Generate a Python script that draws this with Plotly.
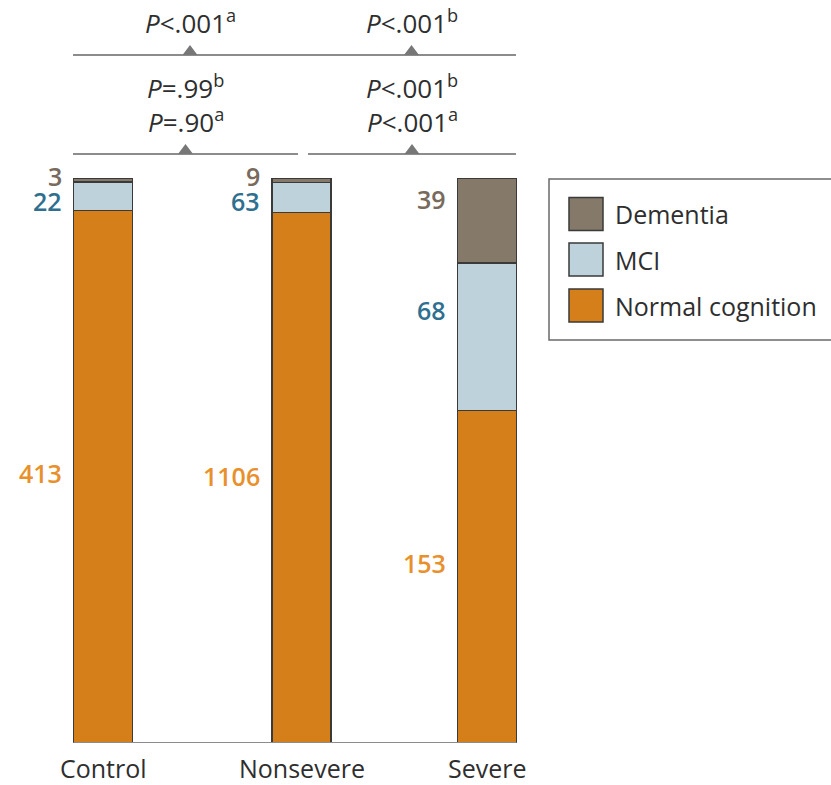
import plotly.graph_objects as go

# Cognitive status counts by group
categories = ["Control", "Nonsevere", "Severe"]
normal_counts = [413, 1106, 153]
mci_counts = [22, 63, 68]
dementia_counts = [3, 9, 39]

series_names = ["Normal cognition", "MCI", "Dementia"]

# Pairwise comparison labels (rows of text above each bracket)
top_row_labels = [["<i>P</i><.001<sup>a</sup>"], ["<i>P</i><.001<sup>b</sup>"]]
second_row_labels = [["<i>P</i>=.99<sup>b</sup>", "<i>P</i>=.90<sup>a</sup>"],
                     ["<i>P</i><.001<sup>b</sup>", "<i>P</i><.001<sup>a</sup>"]]

W, H = 831, 785
PLOT_TOP, PLOT_BOTTOM = 178, 743
FONT = "Open Sans"
TEXT = "#2e2e2e"

bar_fill = {"Normal cognition": "#D57F1A", "MCI": "#BDD2DB", "Dementia": "#85796A"}
label_color = {"Normal cognition": "#E8902C", "MCI": "#2F6F8F", "Dementia": "#786A5C"}

bar_x = [103, 301.5, 487]
bar_w = 59

totals = [a + b + c for a, b, c in zip(normal_counts, mci_counts, dementia_counts)]
pct = {
    "Normal cognition": [v / t * 100 for v, t in zip(normal_counts, totals)],
    "MCI": [v / t * 100 for v, t in zip(mci_counts, totals)],
    "Dementia": [v / t * 100 for v, t in zip(dementia_counts, totals)],
}
counts = {"Normal cognition": normal_counts, "MCI": mci_counts, "Dementia": dementia_counts}

fig = go.Figure()
for name in series_names:
    fig.add_trace(go.Bar(
        x=bar_x, y=pct[name], width=bar_w, name=name,
        marker=dict(color=bar_fill[name], line=dict(color="#3a3a3a", width=1.5)),
        showlegend=False, hoverinfo="skip",
    ))


def py(pix):
    """Pixel row -> paper y coordinate."""
    return (PLOT_BOTTOM - pix) / (PLOT_BOTTOM - PLOT_TOP)


annotations = []
shapes = []

# Count labels beside each segment
label_shift = {
    "Normal cognition": [4, 2, 14],
    "MCI": [-5, -4, 27],
    "Dementia": [4, 4, 21],
}
for i in range(len(categories)):
    base = 0
    for name in series_names:
        seg = pct[name][i]
        annotations.append(dict(
            x=bar_x[i] - bar_w / 2 - 10, y=base + seg / 2, xref="x", yref="y",
            text=str(counts[name][i]), showarrow=False, xanchor="right", yanchor="middle",
            yshift=label_shift[name][i],
            font=dict(family=FONT, size=25, color=label_color[name], weight=600),
        ))
        base += seg

# Category labels
for x, c in zip(bar_x, categories):
    annotations.append(dict(
        x=x, y=py(768), xref="x", yref="paper", text=c, showarrow=False,
        xanchor="center", yanchor="middle", font=dict(family=FONT, size=25, color=TEXT),
    ))

# Baseline
shapes.append(dict(type="line", xref="x", yref="y",
                   x0=bar_x[0] - bar_w / 2, x1=bar_x[-1] + bar_w / 2, y0=0, y1=0,
                   line=dict(color="#8c8c8c", width=2)))

# Comparison brackets
bracket_color = "#8c8c8c"
rows = [
    dict(line_y=55, spans=[(73, 307), (307, 516)], text_y=[22], labels=top_row_labels),
    dict(line_y=154, spans=[(73, 298), (308, 516)], text_y=[87, 121], labels=second_row_labels),
]
for row in rows:
    for (x0, x1), labels in zip(row["spans"], row["labels"]):
        shapes.append(dict(type="line", xref="x", yref="paper", x0=x0, x1=x1,
                           y0=py(row["line_y"]), y1=py(row["line_y"]),
                           line=dict(color=bracket_color, width=2)))
        xm = (x0 + x1) / 2
        shapes.append(dict(type="path", xref="x", yref="paper",
                           path=f"M {xm - 7.5},{py(row['line_y'])} L {xm + 7.5},{py(row['line_y'])} "
                                f"L {xm},{py(row['line_y'] - 10)} Z",
                           fillcolor="#777777", line=dict(width=0)))
        for ty, lab in zip(row["text_y"], labels):
            annotations.append(dict(
                x=xm, y=py(ty), xref="x", yref="paper", text=lab, showarrow=False,
                xanchor="center", yanchor="middle", font=dict(family=FONT, size=26, color=TEXT),
            ))

# Legend box
shapes.append(dict(type="rect", xref="x", yref="paper", x0=549, x1=834,
                   y0=py(340), y1=py(179), line=dict(color="#6a6a6a", width=1.5),
                   fillcolor="rgba(0,0,0,0)"))
legend_order = ["Dementia", "MCI", "Normal cognition"]
legend_rows = [214, 259.5, 305.5]
for name, cy in zip(legend_order, legend_rows):
    shapes.append(dict(type="rect", xref="x", yref="paper", x0=569, x1=603,
                       y0=py(cy + 16.5), y1=py(cy - 16.5),
                       fillcolor=bar_fill[name], line=dict(color="#3a3a3a", width=1.5)))
    annotations.append(dict(
        x=613, y=py(cy), xref="x", yref="paper", text=name, showarrow=False,
        xanchor="left", yanchor="middle", font=dict(family=FONT, size=25, color=TEXT),
    ))

fig.update_layout(
    width=W, height=H,
    margin=dict(l=0, r=0, t=PLOT_TOP, b=H - PLOT_BOTTOM),
    barmode="stack",
    plot_bgcolor="white", paper_bgcolor="white",
    xaxis=dict(range=[0, W], visible=False, fixedrange=True),
    yaxis=dict(range=[0, 100], visible=False, fixedrange=True),
    annotations=annotations, shapes=shapes,
    showlegend=False,
)

fig.write_html("out.html")
